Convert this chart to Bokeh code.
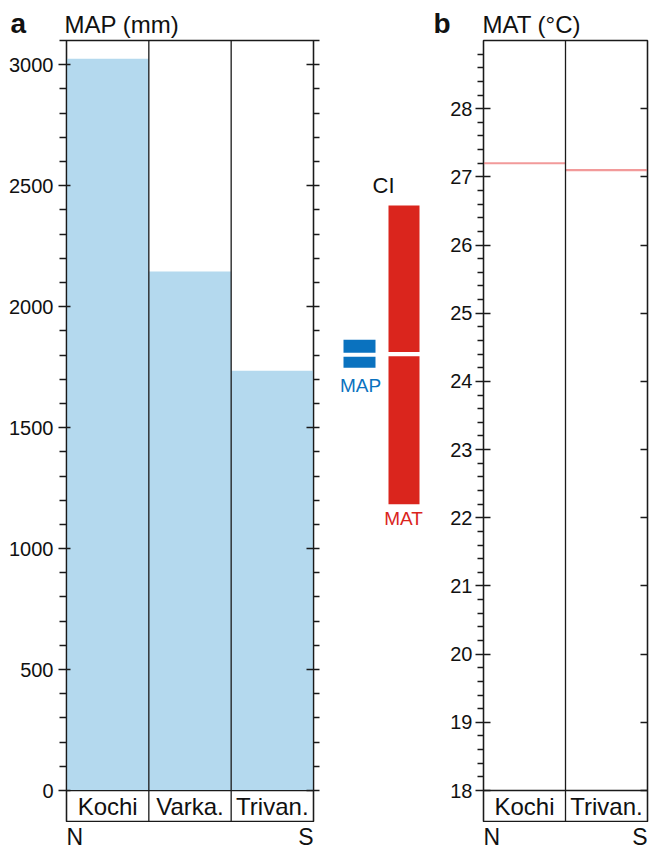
from bokeh.plotting import figure
from bokeh.models import (FixedTicker, LinearAxis, Span, Range1d, ColumnDataSource)
from bokeh.layouts import row, column
from bokeh.embed import file_html
from bokeh.resources import INLINE
from bokeh.core.properties import value

# ---------------- data ----------------
map_sites = ["Kochi", "Varka.", "Trivan."]
map_values = [3025, 2145, 1735]          # mm
mat_sites = ["Kochi", "Trivan."]
mat_values = [27.2, 27.1]                # deg C
map_ticks = [0, 500, 1000, 1500, 2000, 2500, 3000]
mat_ticks = [18, 19, 20, 21, 22, 23, 24, 25, 26, 27, 28]
# CI diagram (in MAT scale units)
ci_mat = [22.2, 26.58]
ci_mat_split = 24.4
ci_map_upper = [24.42, 24.61]
ci_map_lower = [24.20, 24.36]

FONT = "Liberation Sans"
TXT = "#111111"
AX = "#1a1a1a"
FRAME_H = 781
TOP = 1
BOT = 1
STRIP_H = 39
BSTRIP_H = 28


def blank_fig(**kw):
    f = figure(title=None, output_backend="svg", toolbar_location=None,
               x_axis_type=None, y_axis_type=None, **kw)
    f.grid.visible = False
    return f


def style_yaxis(ax, labels=True):
    ax.axis_line_color = AX
    ax.axis_line_width = 1.3
    ax.major_tick_line_color = AX
    ax.major_tick_line_width = 1.3
    ax.minor_tick_line_color = AX
    ax.minor_tick_line_width = 1.3
    ax.major_label_text_font = FONT
    ax.major_label_text_font_size = "20px"
    ax.major_label_text_color = TXT
    if not labels:
        ax.major_label_overrides = {t: "" for t in ax.ticker.ticks}
        ax.major_label_standoff = 0


# ---------------- title strip ----------------
strip = blank_fig(frame_width=649, frame_height=STRIP_H, x_range=Range1d(0, 649), y_range=Range1d(0, STRIP_H),
                  min_border=0)
strip.outline_line_color = None
strip.text(x=[10, 433], y=[16, 16], text=["a", "b"], text_font=value(FONT), text_font_size="28px",
           text_font_style="bold", text_color=TXT, text_baseline="middle")
strip.text(x=[64, 482], y=[15, 15], text=["MAP (mm)", "MAT (°C)"], text_font=value(FONT),
           text_font_size="24px", text_color=TXT, text_baseline="middle")

# ---------------- panel a ----------------
map_top = 3100
map_bottom = -128
pa = blank_fig(frame_width=247, frame_height=FRAME_H, x_range=Range1d(0, 3), y_range=Range1d(map_bottom, map_top),
               min_border_left=66, min_border_right=17, min_border_top=TOP, min_border_bottom=BOT)
pa.outline_line_color = AX
pa.outline_line_width = 1.3

src_a = ColumnDataSource(dict(x=[i + 0.5 for i in range(len(map_sites))], top=map_values, site=map_sites))
pa.vbar(x="x", top="top", bottom=0, width=1.0, source=src_a, fill_color="#b4d9ee", line_color=None)

minor_a = [v for v in range(100, 3101, 100) if v % 500 != 0]
ya = LinearAxis(ticker=FixedTicker(ticks=map_ticks, minor_ticks=minor_a))
style_yaxis(ya)
ya.major_tick_out = 8
ya.major_tick_in = 4
ya.minor_tick_out = 7
ya.minor_tick_in = 0
ya.major_label_standoff = 5
pa.add_layout(ya, "left")

ya2 = LinearAxis(ticker=FixedTicker(ticks=map_ticks, minor_ticks=minor_a))
style_yaxis(ya2, labels=False)
ya2.major_tick_out = 6
ya2.major_tick_in = 7
ya2.minor_tick_out = 6
ya2.minor_tick_in = 0
pa.add_layout(ya2, "right")

for xv in range(1, len(map_sites)):
    pa.add_layout(Span(location=xv, dimension="height", line_color=AX, line_width=1.3))
pa.add_layout(Span(location=0, dimension="width", line_color=AX, line_width=1.3))

pa.text(x="x", y=value(map_bottom / 2), text="site", source=src_a, text_align="center",
        text_baseline="middle", text_font=value(FONT), text_font_size="24px", text_color=TXT)

# ---------------- middle (CI) ----------------
mat_top = 29.0
mat_bottom = 18 - 31 / (750 / 11)
pm = blank_fig(frame_width=110, frame_height=FRAME_H, x_range=Range1d(0, 110), y_range=Range1d(mat_bottom, mat_top),
               min_border_left=0, min_border_right=0, min_border_top=TOP, min_border_bottom=BOT)
pm.outline_line_color = None

red = "#da251d"
blue = "#0a72bf"
pm.quad(left=[58, 58], right=[89, 89], bottom=[ci_mat[0], ci_mat_split + 0.03],
        top=[ci_mat_split - 0.03, ci_mat[1]], fill_color=red, line_color=None)
pm.quad(left=[13, 13], right=[45, 45], bottom=[ci_map_lower[0], ci_map_upper[0]],
        top=[ci_map_lower[1], ci_map_upper[1]], fill_color=blue, line_color=None)
pm.text(x=[53], y=[ci_mat[1]], y_offset=-8, text=["CI"], text_align="center", text_baseline="bottom",
        text_font=value(FONT), text_font_size="22px", text_color=TXT)
pm.text(x=[30], y=[ci_map_lower[0]], y_offset=7, text=["MAP"], text_align="center", text_baseline="top",
        text_font=value(FONT), text_font_size="19px", text_color=blue)
pm.text(x=[73], y=[ci_mat[0]], y_offset=4, text=["MAT"], text_align="center", text_baseline="top",
        text_font=value(FONT), text_font_size="19px", text_color=red)

# ---------------- panel b ----------------
pb = blank_fig(frame_width=164, frame_height=FRAME_H, x_range=Range1d(0, 2), y_range=Range1d(mat_bottom, mat_top),
               min_border_left=43, min_border_right=2, min_border_top=TOP, min_border_bottom=BOT)
pb.outline_line_color = AX
pb.outline_line_width = 1.3

minor_b = [round(18 + 0.2 * i, 1) for i in range(1, 56) if i % 5 != 0]
yb = LinearAxis(ticker=FixedTicker(ticks=mat_ticks, minor_ticks=minor_b))
style_yaxis(yb)
yb.major_tick_out = 8
yb.major_tick_in = 7
yb.minor_tick_out = 6
yb.minor_tick_in = 0
yb.major_label_standoff = 3
pb.add_layout(yb, "left")

yb2 = LinearAxis(ticker=FixedTicker(ticks=mat_ticks, minor_ticks=minor_b))
style_yaxis(yb2, labels=False)
yb2.major_tick_out = 0
yb2.major_tick_in = 7
yb2.minor_tick_out = 0
yb2.minor_tick_in = 0
pb.add_layout(yb2, "right")

src_b = ColumnDataSource(dict(x0=list(range(len(mat_sites))), x1=[i + 1 for i in range(len(mat_sites))],
                              xc=[i + 0.5 for i in range(len(mat_sites))], y=mat_values, site=mat_sites))
pb.segment(x0="x0", x1="x1", y0="y", y1="y", source=src_b, line_color="#f29a9a", line_width=2.2)

for xv in range(1, len(mat_sites)):
    pb.add_layout(Span(location=xv, dimension="height", line_color=AX, line_width=1.3))
pb.add_layout(Span(location=18, dimension="width", line_color=AX, line_width=1.3))

pb.text(x="xc", y=value((18 + mat_bottom) / 2), text="site", source=src_b, text_align="center",
        text_baseline="middle", text_font=value(FONT), text_font_size="24px", text_color=TXT)

# ---------------- bottom strip (N / S) ----------------
bstrip = blank_fig(frame_width=649, frame_height=BSTRIP_H, x_range=Range1d(0, 649), y_range=Range1d(0, BSTRIP_H),
                   min_border=0)
bstrip.outline_line_color = None
bstrip.text(x=[66, 483], y=[13.5, 13.5], text=["N", "N"], text_align="left", text_baseline="middle",
            text_font=value(FONT), text_font_size="23px", text_color=TXT)
bstrip.text(x=[313, 647], y=[13.5, 13.5], text=["S", "S"], text_align="right", text_baseline="middle",
            text_font=value(FONT), text_font_size="23px", text_color=TXT)

layout = column(strip, row(pa, pm, pb, spacing=0), bstrip, spacing=0)
open("out.html", "w").write(file_html(layout, INLINE))
